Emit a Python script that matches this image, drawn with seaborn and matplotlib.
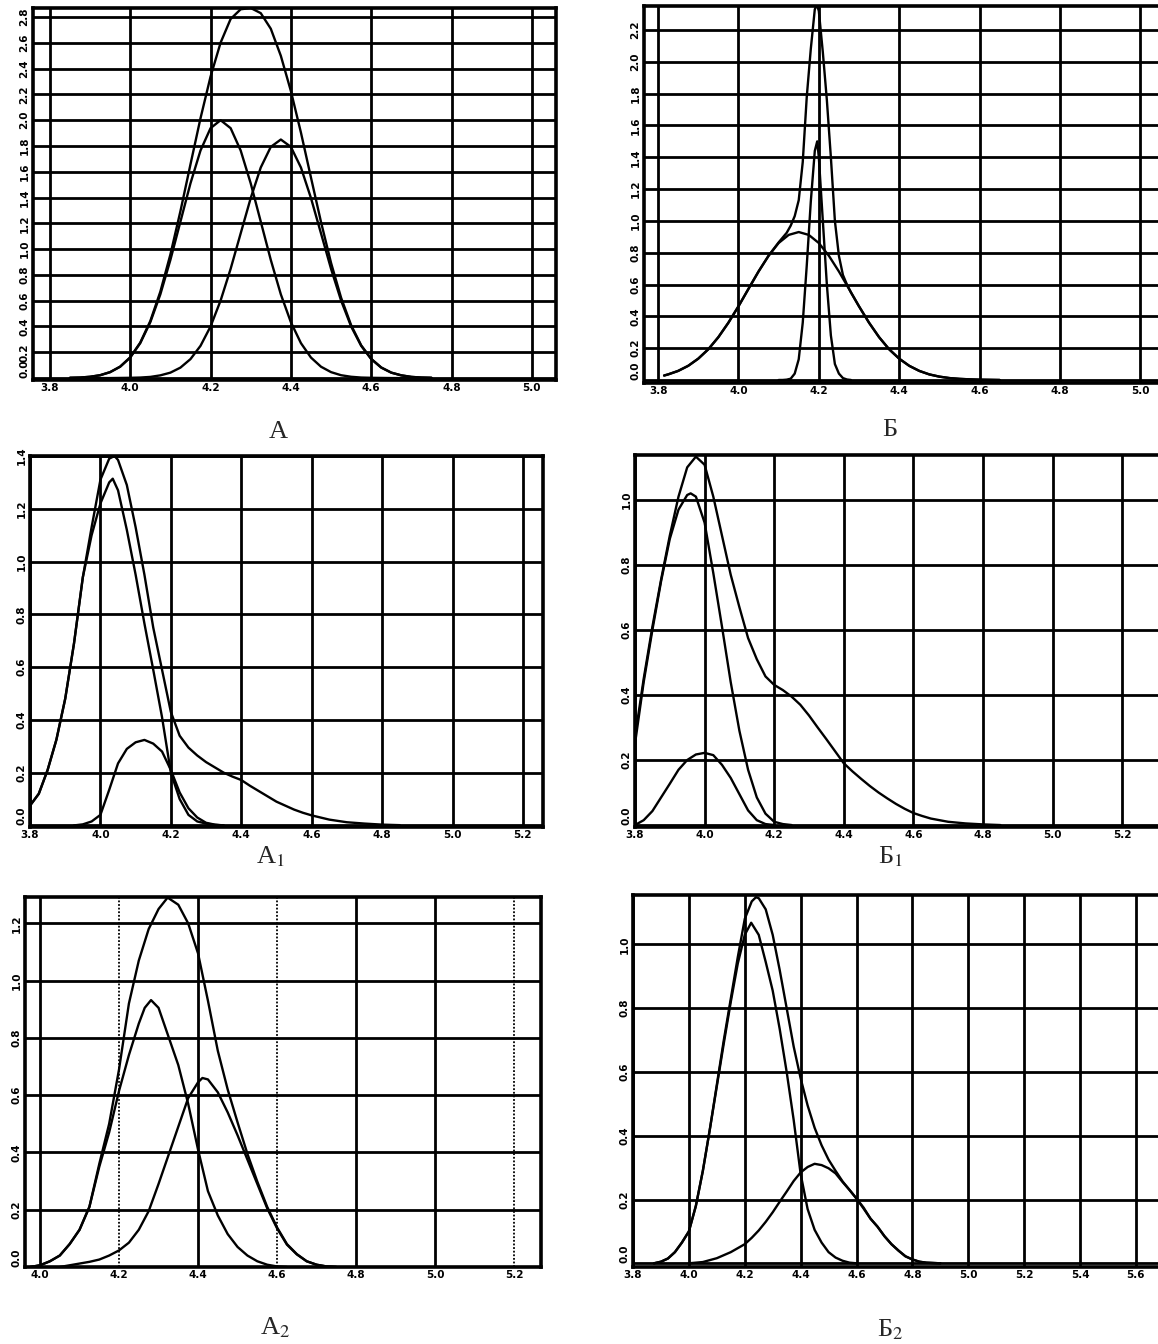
import matplotlib
matplotlib.use("Agg")
import matplotlib.pyplot as plt
import seaborn as sns

# ---------------- data ----------------
# Panel А
A_x = [3.850, 3.875, 3.900, 3.925, 3.950, 3.975, 4.000, 4.025, 4.050, 4.075, 4.100, 4.125,
       4.150, 4.175, 4.200, 4.225, 4.250, 4.275, 4.300, 4.325, 4.350, 4.375, 4.400, 4.425,
       4.450, 4.475, 4.500, 4.525, 4.550, 4.575, 4.600, 4.625, 4.650, 4.675, 4.700, 4.725, 4.750]
A_total = [0.002, 0.004, 0.010, 0.022, 0.046, 0.089, 0.161, 0.275, 0.442, 0.670, 0.958, 1.294,
           1.657, 2.015, 2.338, 2.601, 2.785, 2.860, 2.870, 2.830, 2.709, 2.499, 2.226, 1.904,
           1.555, 1.210, 0.893, 0.623, 0.410, 0.254, 0.149, 0.082, 0.042, 0.021, 0.009, 0.004, 0.002]
A_c1 = [0.002, 0.004, 0.010, 0.022, 0.046, 0.088, 0.159, 0.271, 0.433, 0.649, 0.916, 1.213,
        1.510, 1.765, 1.938, 2.000, 1.938, 1.765, 1.510, 1.213, 0.916, 0.649, 0.433, 0.271,
        0.159, 0.088, 0.046, 0.022, 0.010, 0.004, 0.002, 0.001, 0.0, 0.0, 0.0, 0.0, 0.0]
A_c2 = [0.0, 0.0, 0.0, 0.0, 0.0, 0.001, 0.002, 0.004, 0.009, 0.021, 0.042, 0.081,
        0.147, 0.250, 0.400, 0.601, 0.847, 1.122, 1.396, 1.633, 1.793, 1.850, 1.793, 1.633,
        1.396, 1.122, 0.847, 0.601, 0.400, 0.250, 0.147, 0.081, 0.042, 0.021, 0.009, 0.004, 0.002]
A_xticks = [3.8, 4.0, 4.2, 4.4, 4.6, 4.8, 5.0]
A_yticks = [0.0, 0.2, 0.4, 0.6, 0.8, 1.0, 1.2, 1.4, 1.6, 1.8, 2.0, 2.2, 2.4, 2.6, 2.8]

# Panel Б
B_tot_x = [3.815, 3.825, 3.850, 3.875, 3.900, 3.925, 3.950, 3.975, 4.000, 4.025, 4.050, 4.075, 4.100,
           4.120, 4.130, 4.140, 4.150, 4.160, 4.170, 4.180, 4.190, 4.195, 4.200, 4.210, 4.220,
           4.230, 4.240, 4.250, 4.260, 4.270, 4.280,
           4.300, 4.325, 4.350, 4.375, 4.400, 4.425, 4.450, 4.475, 4.500, 4.525, 4.550, 4.575, 4.600, 4.650]
B_tot_y = [0.028, 0.035, 0.057, 0.089, 0.134, 0.193, 0.269, 0.360, 0.463, 0.573, 0.682, 0.781, 0.865,
           0.925, 0.97, 1.03, 1.13, 1.37, 1.78, 2.08, 2.33, 2.36, 2.32, 2.06, 1.76,
           1.40, 1.00, 0.78, 0.66, 0.60, 0.55,
           0.463, 0.360, 0.269, 0.193, 0.134, 0.089, 0.057, 0.035, 0.021, 0.012, 0.007, 0.004, 0.002, 0.0]
B_broad_x = [3.815, 3.825, 3.850, 3.875, 3.900, 3.925, 3.950, 3.975, 4.000, 4.025, 4.050, 4.075,
             4.100, 4.125, 4.150, 4.175, 4.200, 4.225, 4.250, 4.275, 4.300, 4.325, 4.350, 4.375,
             4.400, 4.425, 4.450, 4.475, 4.500, 4.525, 4.550, 4.575, 4.600, 4.650]
B_broad_y = [0.028, 0.035, 0.057, 0.089, 0.134, 0.193, 0.269, 0.360, 0.463, 0.573, 0.682, 0.781,
             0.861, 0.912, 0.930, 0.912, 0.861, 0.781, 0.682, 0.573, 0.463, 0.360, 0.269, 0.193,
             0.134, 0.089, 0.057, 0.035, 0.021, 0.012, 0.007, 0.004, 0.002, 0.0]
B_narrow_x = [4.10, 4.11, 4.12, 4.13, 4.14, 4.15, 4.16, 4.17, 4.18, 4.19, 4.196, 4.20,
              4.21, 4.22, 4.23, 4.24, 4.25, 4.26, 4.27, 4.28]
B_narrow_y = [0.0, 0.0, 0.002, 0.008, 0.04, 0.13, 0.36, 0.72, 1.12, 1.44, 1.50, 1.40,
              1.0, 0.60, 0.28, 0.10, 0.04, 0.012, 0.003, 0.0]
B_xticks = [3.8, 4.0, 4.2, 4.4, 4.6, 4.8, 5.0]
B_yticks = [0.0, 0.2, 0.4, 0.6, 0.8, 1.0, 1.2, 1.4, 1.6, 1.8, 2.0, 2.2]

# Panel А1
A1_tot_x = [3.800, 3.825, 3.850, 3.875, 3.900, 3.925, 3.950, 3.975, 4.000, 4.025, 4.040, 4.050,
            4.075, 4.100, 4.125, 4.150, 4.175, 4.200, 4.225, 4.250, 4.275, 4.300, 4.325, 4.350,
            4.375, 4.400, 4.425, 4.450, 4.475, 4.500, 4.525, 4.550, 4.575, 4.600, 4.650, 4.700,
            4.750, 4.800, 4.850]
A1_tot_y = [0.075, 0.12, 0.21, 0.325, 0.48, 0.69, 0.94, 1.13, 1.31, 1.39, 1.40, 1.385,
            1.29, 1.13, 0.95, 0.75, 0.59, 0.43, 0.34, 0.295, 0.265, 0.24, 0.22, 0.20,
            0.185, 0.172, 0.15, 0.13, 0.11, 0.09, 0.075, 0.06, 0.048, 0.038, 0.022, 0.012,
            0.007, 0.003, 0.001]
A1_c1_x = [3.800, 3.825, 3.850, 3.875, 3.900, 3.925, 3.950, 3.975, 4.000, 4.025, 4.035, 4.050,
           4.075, 4.100, 4.125, 4.150, 4.175, 4.200, 4.225, 4.250, 4.275, 4.300, 4.325, 4.350]
A1_c1_y = [0.075, 0.12, 0.21, 0.325, 0.48, 0.69, 0.94, 1.10, 1.22, 1.30, 1.314, 1.27,
           1.12, 0.95, 0.765, 0.59, 0.41, 0.20, 0.10, 0.04, 0.015, 0.007, 0.002, 0.0]
A1_c2_x = [3.925, 3.950, 3.975, 4.000, 4.025, 4.050, 4.075, 4.100, 4.125, 4.150, 4.175, 4.200,
           4.225, 4.250, 4.275, 4.300, 4.325, 4.350]
A1_c2_y = [0.0, 0.004, 0.015, 0.04, 0.135, 0.235, 0.29, 0.315, 0.324, 0.31, 0.28, 0.21,
           0.125, 0.065, 0.03, 0.01, 0.003, 0.0]
A1_xticks = [3.8, 4.0, 4.2, 4.4, 4.6, 4.8, 5.0, 5.2]
A1_yticks = [0.0, 0.2, 0.4, 0.6, 0.8, 1.0, 1.2, 1.4]

# Panel Б1
B1_tot_x = [3.800, 3.825, 3.850, 3.875, 3.900, 3.925, 3.950, 3.975, 4.000, 4.025, 4.050, 4.075,
            4.100, 4.125, 4.150, 4.175, 4.200, 4.225, 4.250, 4.275, 4.300, 4.325, 4.350, 4.375,
            4.400, 4.425, 4.450, 4.475, 4.500, 4.525, 4.550, 4.575, 4.600, 4.625, 4.650, 4.700,
            4.750, 4.800, 4.850]
B1_tot_y = [0.27, 0.45, 0.61, 0.755, 0.89, 1.01, 1.10, 1.133, 1.108, 1.01, 0.89, 0.77,
            0.67, 0.575, 0.51, 0.457, 0.431, 0.415, 0.395, 0.37, 0.337, 0.30, 0.264, 0.227,
            0.19, 0.165, 0.142, 0.12, 0.10, 0.082, 0.065, 0.05, 0.037, 0.028, 0.02, 0.01,
            0.005, 0.002, 0.0]
B1_c1_x = [3.800, 3.825, 3.850, 3.875, 3.900, 3.925, 3.950, 3.960, 3.975, 4.000, 4.025, 4.050,
           4.075, 4.100, 4.125, 4.150, 4.175, 4.200, 4.225, 4.250]
B1_c1_y = [0.25, 0.44, 0.60, 0.75, 0.88, 0.97, 1.015, 1.02, 1.01, 0.93, 0.775, 0.61,
           0.44, 0.29, 0.17, 0.085, 0.035, 0.01, 0.003, 0.0]
B1_c2_x = [3.800, 3.825, 3.850, 3.875, 3.900, 3.925, 3.950, 3.975, 4.000, 4.025, 4.050, 4.075,
           4.100, 4.125, 4.150, 4.175, 4.200]
B1_c2_y = [0.0, 0.015, 0.043, 0.085, 0.127, 0.17, 0.20, 0.217, 0.222, 0.215, 0.185, 0.145,
           0.095, 0.045, 0.015, 0.003, 0.0]
B1_xticks = [3.8, 4.0, 4.2, 4.4, 4.6, 4.8, 5.0, 5.2]
B1_yticks = [0.0, 0.2, 0.4, 0.6, 0.8, 1.0]

# Panel А2
A2_tot_x = [3.975, 4.000, 4.025, 4.050, 4.075, 4.100, 4.125, 4.150, 4.175, 4.200, 4.225, 4.250,
            4.275, 4.300, 4.323, 4.350, 4.375, 4.400, 4.425, 4.450, 4.475, 4.500, 4.525, 4.550,
            4.575, 4.600, 4.625, 4.650, 4.675, 4.700, 4.725, 4.750]
A2_tot_y = [0.0, 0.006, 0.02, 0.04, 0.08, 0.13, 0.21, 0.36, 0.50, 0.69, 0.92, 1.07,
            1.18, 1.25, 1.29, 1.265, 1.20, 1.095, 0.93, 0.755, 0.62, 0.505, 0.395, 0.298,
            0.21, 0.138, 0.08, 0.045, 0.02, 0.008, 0.002, 0.0]
A2_c1_x = [3.975, 4.000, 4.025, 4.050, 4.075, 4.100, 4.125, 4.150, 4.175, 4.200, 4.225, 4.250,
           4.265, 4.281, 4.300, 4.325, 4.350, 4.375, 4.400, 4.425, 4.450, 4.475, 4.500, 4.525,
           4.550, 4.575, 4.600, 4.625]
A2_c1_y = [0.0, 0.006, 0.02, 0.04, 0.08, 0.13, 0.21, 0.35, 0.47, 0.615, 0.74, 0.85,
           0.905, 0.932, 0.905, 0.805, 0.705, 0.57, 0.41, 0.265, 0.18, 0.115, 0.07, 0.04,
           0.02, 0.008, 0.002, 0.0]
A2_c2_x = [4.050, 4.075, 4.100, 4.125, 4.150, 4.175, 4.200, 4.225, 4.250, 4.275, 4.300, 4.325,
           4.350, 4.375, 4.400, 4.411, 4.425, 4.450, 4.475, 4.500, 4.525, 4.550, 4.575, 4.600,
           4.625, 4.650, 4.675, 4.700, 4.725, 4.750]
A2_c2_y = [0.0, 0.006, 0.012, 0.018, 0.026, 0.04, 0.058, 0.085, 0.13, 0.195, 0.29, 0.39,
           0.49, 0.59, 0.645, 0.66, 0.655, 0.61, 0.54, 0.46, 0.375, 0.29, 0.205, 0.135,
           0.078, 0.044, 0.02, 0.008, 0.002, 0.0]
A2_xticks = [4.0, 4.2, 4.4, 4.6, 4.8, 5.0, 5.2]
A2_yticks = [0.0, 0.2, 0.4, 0.6, 0.8, 1.0, 1.2]

# Panel Б2
B2_tot_x = [3.875, 3.900, 3.925, 3.950, 3.975, 4.000, 4.025, 4.050, 4.075, 4.100, 4.125, 4.150,
            4.175, 4.200, 4.225, 4.240, 4.250, 4.275, 4.300, 4.325, 4.350, 4.375, 4.400, 4.425,
            4.450, 4.475, 4.500, 4.525, 4.550, 4.575, 4.600, 4.625, 4.650, 4.675, 4.700, 4.725,
            4.750, 4.775, 4.800, 4.825, 4.850, 4.900]
B2_tot_y = [0.0, 0.005, 0.015, 0.035, 0.065, 0.10, 0.18, 0.29, 0.42, 0.56, 0.70, 0.83,
            0.96, 1.08, 1.135, 1.148, 1.145, 1.11, 1.03, 0.92, 0.80, 0.68, 0.58, 0.495,
            0.425, 0.37, 0.325, 0.29, 0.257, 0.23, 0.203, 0.175, 0.14, 0.115, 0.085, 0.06,
            0.04, 0.022, 0.012, 0.005, 0.002, 0.0]
B2_c1_x = [3.875, 3.900, 3.925, 3.950, 3.975, 4.000, 4.025, 4.050, 4.075, 4.100, 4.125, 4.150,
           4.175, 4.200, 4.223, 4.250, 4.275, 4.300, 4.325, 4.350, 4.375, 4.400, 4.425, 4.450,
           4.475, 4.500, 4.525, 4.550, 4.575, 4.600]
B2_c1_y = [0.0, 0.005, 0.015, 0.035, 0.065, 0.10, 0.18, 0.29, 0.42, 0.555, 0.69, 0.82,
           0.94, 1.03, 1.068, 1.03, 0.945, 0.855, 0.735, 0.60, 0.45, 0.28, 0.17, 0.105,
           0.065, 0.035, 0.018, 0.008, 0.002, 0.0]
B2_c2_x = [4.000, 4.050, 4.100, 4.150, 4.200, 4.225, 4.250, 4.275, 4.300, 4.325, 4.350, 4.375,
           4.400, 4.425, 4.450, 4.475, 4.500, 4.525, 4.550, 4.575, 4.600, 4.625, 4.650, 4.675,
           4.700, 4.725, 4.750, 4.775, 4.800, 4.825, 4.850, 4.900]
B2_c2_y = [0.0, 0.004, 0.016, 0.035, 0.06, 0.08, 0.103, 0.13, 0.16, 0.193, 0.225, 0.258,
           0.285, 0.302, 0.312, 0.308, 0.298, 0.282, 0.255, 0.23, 0.203, 0.172, 0.14, 0.115,
           0.085, 0.06, 0.04, 0.022, 0.012, 0.005, 0.002, 0.0]
B2_xticks = [3.8, 4.0, 4.2, 4.4, 4.6, 4.8, 5.0, 5.2, 5.4, 5.6]
B2_yticks = [0.0, 0.2, 0.4, 0.6, 0.8, 1.0]

# ---------------- styling ----------------
sns.set_style("white")
plt.rcParams['font.family'] = ['DejaVu Sans']
plt.rcParams['mathtext.fontset'] = 'stix'

W, H = 1158, 1344
fig = plt.figure(figsize=(W / 100, H / 100), dpi=100)
fig.patch.set_facecolor("white")


def make_axes(l, t, r, b):
    return fig.add_axes([l / W, 1 - b / H, (r - l) / W, (b - t) / H])


panels = [
    dict(box=(33, 8, 556, 380), xlim=(3.758, 5.060), ylim=(-0.015, 2.870),
         xt=A_xticks, yt=A_yticks,
         curves=[(A_x, A_total), (A_x, A_c1), (A_x, A_c2)],
         label="А", lxy=(278, 432), right=True),
    dict(box=(644, 6, 1158, 383), xlim=(3.765, 5.044), ylim=(-0.019, 2.351),
         xt=B_xticks, yt=B_yticks,
         curves=[(B_tot_x, B_tot_y), (B_broad_x, B_broad_y), (B_narrow_x, B_narrow_y)],
         label="Б", lxy=(890, 430), right=False),
    dict(box=(30, 456, 543, 827), xlim=(3.8, 5.257), ylim=(-0.006, 1.40),
         xt=A1_xticks, yt=A1_yticks,
         curves=[(A1_tot_x, A1_tot_y), (A1_c1_x, A1_c1_y), (A1_c2_x, A1_c2_y)],
         label="А$_1$", lxy=(270, 857), right=True),
    dict(box=(635, 455, 1158, 827), xlim=(3.8, 5.303), ylim=(-0.006, 1.138),
         xt=B1_xticks, yt=B1_yticks,
         curves=[(B1_tot_x, B1_tot_y), (B1_c1_x, B1_c1_y), (B1_c2_x, B1_c2_y)],
         label="Б$_1$", lxy=(890, 857), right=False),
    dict(box=(25, 897, 541, 1267), xlim=(3.962, 5.268), ylim=(0.0, 1.292),
         xt=A2_xticks, yt=A2_yticks,
         curves=[(A2_tot_x, A2_tot_y), (A2_c1_x, A2_c1_y), (A2_c2_x, A2_c2_y)],
         label="А$_2$", lxy=(275, 1328), right=True),
    dict(box=(633, 895, 1158, 1267), xlim=(3.8, 5.679), ylim=(-0.0116, 1.155),
         xt=B2_xticks, yt=B2_yticks,
         curves=[(B2_tot_x, B2_tot_y), (B2_c1_x, B2_c1_y), (B2_c2_x, B2_c2_y)],
         label="Б$_2$", lxy=(890, 1330), right=False),
]

for i, p in enumerate(panels):
    ax = make_axes(*p["box"])
    ax.set_facecolor("white")
    for xs, ys in p["curves"]:
        sns.lineplot(x=xs, y=ys, ax=ax, color="black", linewidth=1.7,
                     estimator=None, sort=False, zorder=3)
    ax.set_xlim(*p["xlim"])
    ax.set_ylim(*p["ylim"])
    ax.set_xticks(p["xt"])
    ax.set_yticks(p["yt"])
    ax.set_xticklabels([f"{v:.1f}" for v in p["xt"]], fontsize=7.5, fontweight="bold")
    ylabs = ax.set_yticklabels([f"{v:.1f}" for v in p["yt"]], fontsize=7.5,
                               fontweight="bold", rotation=90, va="center")
    # the lowest y label sits just above the corner, as in the scan
    ylabs[0].set_va("bottom")
    ax.tick_params(axis="both", length=0, pad=2.5, colors="black")
    ax.grid(True, color="black", linewidth=2.0, zorder=1)
    ax.set_axisbelow(True)
    for side, sp in ax.spines.items():
        sp.set_color("black")
        sp.set_linewidth(2.6)
    ax.spines["right"].set_visible(p["right"])
    ax.set_xlabel("")
    ax.set_ylabel("")
    if i == 4:
        # some vertical grid lines appear thin and dotted in the scan
        gl = ax.get_xgridlines()
        for k in (1, 3, 6):
            gl[k].set_linestyle((0, (1, 1)))
            gl[k].set_linewidth(1.3)
    fig.text(p["lxy"][0] / W, 1 - p["lxy"][1] / H, p["label"],
             ha="center", va="center", fontsize=19,
             family=["Liberation Serif", "DejaVu Serif"])

fig.savefig("out.png", dpi=100, facecolor="white")
